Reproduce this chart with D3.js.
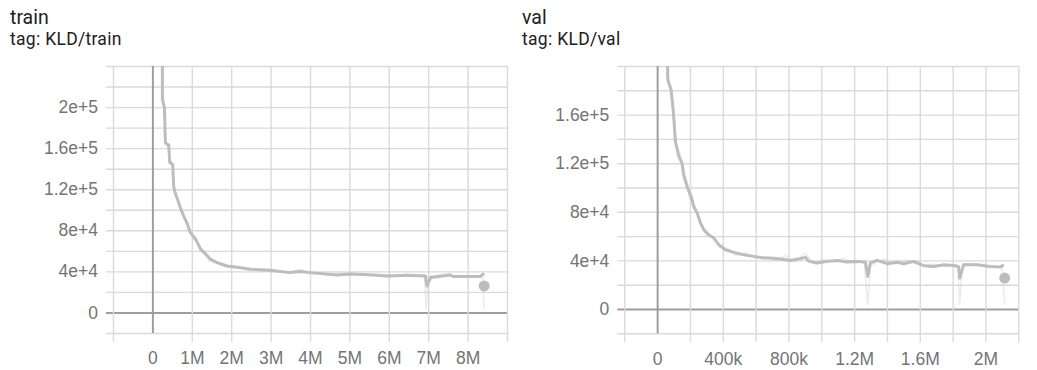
<!DOCTYPE html>
<html>
<head>
<meta charset="utf-8">
<script src="https://cdnjs.cloudflare.com/ajax/libs/d3/7.8.5/d3.min.js"></script>
<style>
  html, body { margin: 0; padding: 0; background: #fff; }
  svg { display: block; }
  .title { font-family: Roboto, "Noto Sans", sans-serif; fill: #212121; }
  .tick text { font-family: "Liberation Sans", Helvetica, Arial, sans-serif; fill: #747474; }
</style>
</head>
<body>
<svg></svg>
<script>
// smoothed KLD/train (step, value)
const trainSteps  = [0.25e6, 0.254e6, 0.305e6, 0.33e6, 0.415e6, 0.44e6, 0.516e6, 0.54e6, 0.58e6, 0.64e6, 0.71e6, 0.78e6, 0.88e6, 0.96e6, 1.05e6, 1.13e6, 1.22e6, 1.35e6, 1.47e6, 1.64e6, 1.9e6, 2.15e6, 2.49e6, 2.99e6, 3.5e6, 3.76e6, 4.0e6, 4.69e6, 5.03e6, 5.61e6, 5.96e6, 6.46e6, 6.93e6, 6.97e6, 7.06e6, 7.56e6, 7.64e6, 8.32e6, 8.42e6]
const trainValues = [400e3, 207e3, 200e3, 165e3, 163e3, 146e3, 144e3, 123e3, 116e3, 110e3, 102e3, 95e3, 87e3, 78e3, 74e3, 69e3, 62e3, 57e3, 52e3, 48.5e3, 45.2e3, 44e3, 42e3, 41e3, 38.8e3, 39.8e3, 38.8e3, 36.5e3, 37.5e3, 36.5e3, 35.5e3, 36.2e3, 35.5e3, 25.8e3, 34e3, 36.5e3, 35e3, 35e3, 38e3]
// raw KLD/train
const trainRawSteps  = [0.25e6, 0.26e6, 0.29e6, 0.31e6, 0.33e6, 0.4e6, 0.44e6, 0.5e6, 0.53e6, 0.58e6, 0.63e6, 0.7e6, 0.78e6, 0.86e6, 0.95e6, 1.02e6, 1.12e6, 1.2e6, 1.32e6, 1.45e6, 1.6e6, 1.85e6, 2.1e6, 2.4e6, 2.8e6, 3.1e6, 3.5e6, 3.77e6, 4.0e6, 4.5e6, 5.0e6, 5.5e6, 6.0e6, 6.5e6, 6.9e6, 6.95e6, 7.0e6, 7.56e6, 7.6e6, 8.0e6, 8.38e6, 8.42e6]
const trainRawValues = [400e3, 230e3, 205e3, 185e3, 168e3, 160e3, 150e3, 146e3, 128e3, 114e3, 112e3, 100e3, 98e3, 86e3, 80e3, 72e3, 71e3, 60e3, 57e3, 50e3, 49e3, 44e3, 45e3, 41e3, 42e3, 40e3, 39.5e3, 42e3, 38e3, 37.5e3, 38.5e3, 36e3, 36.5e3, 35.5e3, 36e3, 3.2e3, 35e3, 38e3, 35e3, 35.5e3, 36e3, 3.2e3]
const trainLast = [8.42e6, 25.8e3]

// smoothed KLD/val
const valSteps  = [61e3, 64.6e3, 85e3, 97.5e3, 105e3, 111e3, 132e3, 152e3, 162e3, 186e3, 207e3, 223e3, 244e3, 264e3, 284e3, 314e3, 345e3, 375e3, 416e3, 467e3, 528e3, 589e3, 650e3, 690e3, 751e3, 812e3, 873e3, 904e3, 924e3, 975e3, 1036e3, 1097e3, 1157e3, 1218e3, 1269e3, 1283e3, 1299e3, 1340e3, 1401e3, 1462e3, 1502e3, 1563e3, 1624e3, 1685e3, 1746e3, 1817e3, 1837e3, 1843e3, 1868e3, 1950e3, 2030e3, 2091e3, 2111e3]
const valValues = [230e3, 188.7e3, 180.5e3, 164e3, 150.3e3, 138e3, 125.6e3, 120e3, 110.5e3, 99.6e3, 92.7e3, 84.4e3, 79e3, 70.8e3, 65.3e3, 61.1e3, 58.4e3, 52.9e3, 48.8e3, 46.6e3, 44.7e3, 43.3e3, 42e3, 42e3, 41.1e3, 40e3, 41.5e3, 42.5e3, 39.2e3, 37.9e3, 39.2e3, 40e3, 38.7e3, 39.2e3, 38.4e3, 26.8e3, 37.9e3, 40e3, 37.3e3, 38.4e3, 37.3e3, 39.2e3, 35.6e3, 35e3, 36.5e3, 35.6e3, 34.6e3, 25.5e3, 36.5e3, 36.5e3, 35e3, 34.6e3, 36.5e3]
// raw KLD/val
const valRawSteps  = [61e3, 70e3, 90e3, 104e3, 118e3, 140e3, 160e3, 180e3, 200e3, 225e3, 250e3, 275e3, 300e3, 340e3, 380e3, 430e3, 480e3, 540e3, 600e3, 660e3, 720e3, 780e3, 840e3, 900e3, 960e3, 1020e3, 1080e3, 1140e3, 1200e3, 1260e3, 1283e3, 1300e3, 1380e3, 1450e3, 1520e3, 1600e3, 1680e3, 1760e3, 1830e3, 1843e3, 1860e3, 1940e3, 2020e3, 2100e3, 2117e3]
const valRawValues = [230e3, 192e3, 176e3, 158e3, 134e3, 128e3, 106e3, 101e3, 90e3, 86e3, 76e3, 68e3, 60e3, 60e3, 51e3, 50e3, 44e3, 46e3, 42e3, 43e3, 40e3, 44e3, 39e3, 46e3, 37e3, 41e3, 39e3, 42e3, 37e3, 40e3, 3.5e3, 36e3, 41e3, 37e3, 40e3, 36e3, 37e3, 35e3, 36e3, 3.5e3, 37e3, 37.5e3, 34e3, 35e3, 3.5e3]
const valLast = [2117e3, 25.5e3]

// ticks
const trainXGrid   = [-1e6, 0, 1e6, 2e6, 3e6, 4e6, 5e6, 6e6, 7e6, 8e6, 9e6]
const trainXTicks  = [0, 1e6, 2e6, 3e6, 4e6, 5e6, 6e6, 7e6, 8e6]
const trainXLabels = ['0', '1M', '2M', '3M', '4M', '5M', '6M', '7M', '8M']
const trainYGrid   = [-2e4, 0, 2e4, 4e4, 6e4, 8e4, 10e4, 12e4, 14e4, 16e4, 18e4, 20e4, 22e4, 24e4]
const trainYTicks  = [0, 4e4, 8e4, 12e4, 16e4, 20e4]
const trainYLabels = ['0', '4e+4', '8e+4', '1.2e+5', '1.6e+5', '2e+5']

const valXGrid   = [-2e5, 0, 2e5, 4e5, 6e5, 8e5, 10e5, 12e5, 14e5, 16e5, 18e5, 20e5, 22e5]
const valXTicks  = [0, 4e5, 8e5, 12e5, 16e5, 20e5]
const valXLabels = ['0', '400k', '800k', '1.2M', '1.6M', '2M']
const valYGrid   = [-2e4, 0, 2e4, 4e4, 6e4, 8e4, 10e4, 12e4, 14e4, 16e4, 18e4, 20e4]
const valYTicks  = [0, 4e4, 8e4, 12e4, 16e4]
const valYLabels = ['0', '4e+4', '8e+4', '1.2e+5', '1.6e+5']

const W = 1037
const H = 370
const lineColor = '#bdbdbd'

let svg = d3.select('svg').attr('width', W).attr('height', H)

let drawPanel = (cfg) => {
    let g = svg.append('g')
    let w = cfg.right - cfg.left
    let h = cfg.bottom - cfg.top

    g.append('text').attr('class', 'title')
     .attr('x', cfg.tx).attr('y', 24)
     .style('font-size', '19.5px')
     .text(cfg.title)
    g.append('text').attr('class', 'title')
     .attr('x', cfg.tx).attr('y', 45)
     .style('font-size', '17.5px')
     .style('letter-spacing', '0.3px')
     .text(cfg.tag)

    let x = d3.scaleLinear().domain(cfg.xDomain).range([cfg.left, cfg.right])
    let y = d3.scaleLinear().domain(cfg.yDomain).range([cfg.bottom, cfg.top])

    // horizontal grid (sticks out 7px to the left)
    let yGrid = g.append('g')
        .attr('transform', 'translate(' + (cfg.left - 7) + ',0)')
        .call(d3.axisLeft(y).tickValues(cfg.yGrid).tickSize(-(w + 7)).tickFormat(''))
    yGrid.select('.domain').remove()
    yGrid.selectAll('line')
        .attr('stroke', (d) => d === 0 ? '#9e9e9e' : '#dadada')
        .attr('stroke-width', (d) => d === 0 ? 2 : 1.4)

    // vertical grid (sticks out 9px below)
    let xGrid = g.append('g')
        .attr('transform', 'translate(0,' + (cfg.bottom + 9) + ')')
        .call(d3.axisBottom(x).tickValues(cfg.xGrid).tickSize(-(h + 9)).tickFormat(''))
    xGrid.select('.domain').remove()
    xGrid.selectAll('line')
        .attr('stroke', (d) => d === 0 ? '#9e9e9e' : '#dadada')
        .attr('stroke-width', (d) => d === 0 ? 2 : 1.4)
    // the zero column stops at the plot bottom
    xGrid.selectAll('.tick').filter((d) => d === 0).select('line').attr('y1', -9)

    // labels
    let yAx = g.append('g')
        .attr('transform', 'translate(' + (cfg.left - 7) + ',0)')
        .call(d3.axisLeft(y).tickValues(cfg.yTicks).tickSize(0).tickPadding(8)
              .tickFormat((d, i) => cfg.yLabels[i]))
    yAx.select('.domain').remove()
    yAx.selectAll('text').style('font-size', '17.5px')

    let xAx = g.append('g')
        .attr('transform', 'translate(0,' + cfg.bottom + ')')
        .call(d3.axisBottom(x).tickValues(cfg.xTicks).tickSize(0).tickPadding(19)
              .tickFormat((d, i) => cfg.xLabels[i]))
    xAx.select('.domain').remove()
    xAx.selectAll('text').style('font-size', '17.5px')

    // lines, clipped to the plot box
    g.append('clipPath').attr('id', cfg.clipId)
     .append('rect').attr('x', cfg.left).attr('y', cfg.top).attr('width', w).attr('height', h)

    let line = d3.line().x((d) => x(d[0])).y((d) => y(d[1]))
    let raw = d3.zip(cfg.rawSteps, cfg.rawValues)
    let smooth = d3.zip(cfg.steps, cfg.values)

    let plot = g.append('g').attr('clip-path', 'url(#' + cfg.clipId + ')')
    plot.append('path').datum(raw)
        .attr('d', line)
        .attr('fill', 'none')
        .attr('stroke', lineColor)
        .attr('stroke-opacity', 0.3)
        .attr('stroke-width', 1.5)
    plot.append('path').datum(smooth)
        .attr('d', line)
        .attr('fill', 'none')
        .attr('stroke', lineColor)
        .attr('stroke-width', 3)
        .attr('stroke-linejoin', 'round')
    plot.append('circle')
        .attr('cx', x(cfg.last[0])).attr('cy', y(cfg.last[1]))
        .attr('r', 5.5)
        .attr('fill', lineColor)
}

drawPanel({
    title: 'train', tag: 'tag: KLD/train', tx: 10, clipId: 'clipTrain',
    left: 113, right: 507, top: 66, bottom: 333,
    xDomain: [-1e6, 9e6], yDomain: [-2e4, 2.4e5],
    xGrid: trainXGrid, xTicks: trainXTicks, xLabels: trainXLabels,
    yGrid: trainYGrid, yTicks: trainYTicks, yLabels: trainYLabels,
    steps: trainSteps, values: trainValues,
    rawSteps: trainRawSteps, rawValues: trainRawValues,
    last: trainLast
})

drawPanel({
    title: 'val', tag: 'tag: KLD/val', tx: 522, clipId: 'clipVal',
    left: 624.3, right: 1018.3, top: 66, bottom: 333.3,
    xDomain: [-2e5, 2.2e6], yDomain: [-2e4, 2e5],
    xGrid: valXGrid, xTicks: valXTicks, xLabels: valXLabels,
    yGrid: valYGrid, yTicks: valYTicks, yLabels: valYLabels,
    steps: valSteps, values: valValues,
    rawSteps: valRawSteps, rawValues: valRawValues,
    last: valLast
})
</script>
</body>
</html>
